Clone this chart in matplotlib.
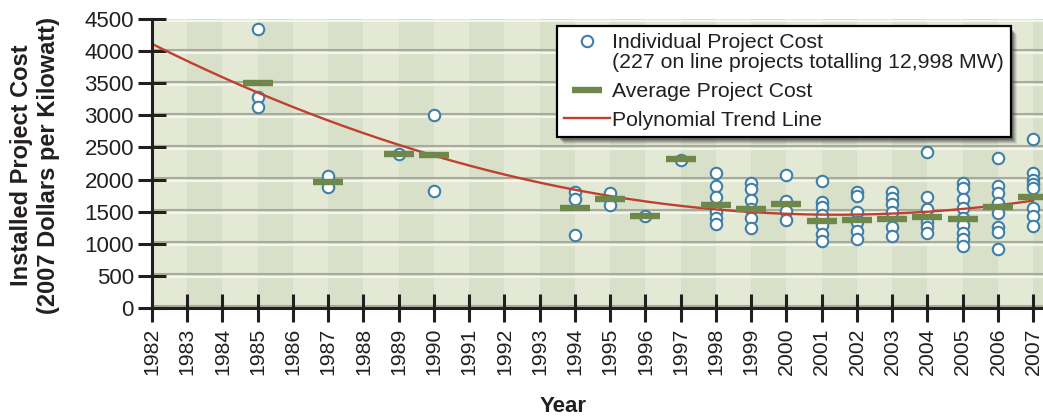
import numpy as np
import matplotlib
matplotlib.use("Agg")
import matplotlib.pyplot as plt
import matplotlib.transforms as mtransforms
import matplotlib.patches as mpatches
from matplotlib.lines import Line2D
from matplotlib.legend_handler import HandlerLine2D

plt.rcParams['font.family'] = ['Liberation Sans', 'DejaVu Sans']

# ---- data -----------------------------------------------------------------
tick_years = list(range(1982, 2008))
cost_ticks = list(range(0, 5000, 500))

# individual on-line projects (year, installed cost in 2007 $/kW)
project_year = (
    [1985] * 3 + [1987] * 2 + [1989] + [1990] * 2 + [1994] * 3 + [1995] * 2
    + [1996] + [1997] + [1998] * 6 + [1999] * 6 + [2000] * 4 + [2001] * 7
    + [2002] * 6 + [2003] * 6 + [2004] * 6 + [2005] * 9 + [2006] * 8 + [2007] * 8
)
project_cost = [
    4340, 3290, 3125,                                   # 1985
    2055, 1880,                                         # 1987
    2400,                                               # 1989
    3000, 1815,                                         # 1990
    1800, 1700, 1130,                                   # 1994
    1795, 1605,                                         # 1995
    1435,                                               # 1996
    2305,                                               # 1997
    2095, 1905, 1735, 1500, 1395, 1310,                 # 1998
    1940, 1850, 1685, 1540, 1395, 1250,                 # 1999
    2070, 1665, 1510, 1370,                             # 2000
    1975, 1655, 1580, 1450, 1290, 1150, 1045,           # 2001
    1800, 1745, 1500, 1345, 1205, 1075,                 # 2002
    1800, 1710, 1615, 1500, 1255, 1125,                 # 2003
    2425, 1735, 1535, 1345, 1255, 1165,                 # 2004
    1940, 1865, 1700, 1550, 1395, 1290, 1175, 1070, 965,  # 2005
    2340, 1900, 1785, 1640, 1475, 1265, 1190, 925,      # 2006
    2625, 2095, 1995, 1930, 1865, 1550, 1435, 1275,     # 2007
]

# capacity-weighted average cost per year
avg_years = [1985, 1987, 1989, 1990, 1994, 1995, 1996, 1997, 1998, 1999,
             2000, 2001, 2002, 2003, 2004, 2005, 2006, 2007]
avg_costs = [3500, 1955, 2400, 2390, 1550, 1690, 1430, 2315, 1600, 1540,
             1615, 1360, 1370, 1380, 1420, 1380, 1580, 1725]

# points on the quadratic trend line
trend_years = [1982, 1985, 1990, 2001, 2007]
trend_costs = [4120, 3330, 2400, 1435, 1680]

# ---- style ----------------------------------------------------------------
INK = '#231f20'
STRIPE_LIGHT = '#e4e9d6'
STRIPE_DARK = '#d9e0c9'
GRID_GRAY = '#a8ab99'
GRID_WHITE = '#f5f7ef'
CIRCLE_EDGE = '#3f7fa7'
AVG_GREEN = '#6d884a'
TREND_RED = '#c0402e'

fig = plt.figure(figsize=(10.43, 4.2), dpi=100)
ax = fig.add_axes([152 / 1043, 112 / 420, 891 / 1043, 289 / 420])

x_lo, x_hi = 1982, 2007.28
ax.set_xlim(x_lo, x_hi)
ax.set_ylim(0, 4500)

# alternating yearly background stripes
for i, yr in enumerate(tick_years):
    ax.axvspan(yr, yr + 1, color=STRIPE_LIGHT if i % 2 == 0 else STRIPE_DARK,
               lw=0, zorder=0)

# embossed horizontal grid: gray line with a white line just below
up = mtransforms.offset_copy(ax.transData, fig=fig, x=0, y=1.6, units='dots')
down = mtransforms.offset_copy(ax.transData, fig=fig, x=0, y=-1.6, units='dots')
for v in cost_ticks:
    ax.plot([x_lo, x_hi], [v, v], color=GRID_GRAY, lw=1.5, transform=up,
            zorder=1, solid_capstyle='butt')
    ax.plot([x_lo, x_hi], [v, v], color=GRID_WHITE, lw=1.4, transform=down,
            zorder=1, solid_capstyle='butt')

# individual projects
ax.scatter(project_year, project_cost, s=68, facecolor='white',
           edgecolor=CIRCLE_EDGE, linewidths=1.5, zorder=3, clip_on=False)

# trend line
coef = np.polyfit(trend_years, trend_costs, 2)
tx = np.linspace(1982, 2007, 300)
ax.plot(tx, np.polyval(coef, tx), color=TREND_RED, lw=1.7, zorder=4)

# yearly averages
ax.plot(avg_years, avg_costs, ls='none', marker='_', ms=21, mew=4.6,
        color=AVG_GREEN, zorder=5)

# axes, ticks
for side in ('top', 'right'):
    ax.spines[side].set_visible(False)
for side in ('left', 'bottom'):
    ax.spines[side].set_linewidth(2.2)
    ax.spines[side].set_color(INK)
    ax.spines[side].set_zorder(6)

ax.set_xticks(tick_years)
ax.set_xticklabels([str(y) for y in tick_years], rotation=90)
ax.set_yticks(cost_ticks)
ax.set_yticklabels([str(v) for v in cost_ticks])
ax.tick_params(axis='both', direction='inout', width=2.2, color=INK,
               labelcolor=INK)
ax.tick_params(axis='y', length=20, pad=3.0, labelsize=16)
ax.tick_params(axis='x', length=19.5, pad=4.5, labelsize=15.3)

fig.text(35 / 1043, 1 - 165 / 420,
         'Installed Project Cost\n(2007 Dollars per Kilowatt)',
         rotation=90, ha='center', va='center', fontsize=17,
         fontweight='bold', color=INK, linespacing=1.2, multialignment='center')
fig.text(563 / 1043, 1 - 407 / 420, 'Year', ha='center', va='center',
         fontsize=16, fontweight='bold', color=INK)


# legend: circle handle sits beside the first line of its two-line label
class FirstLineHandler(HandlerLine2D):
    def __init__(self, lift, **kw):
        super().__init__(**kw)
        self.lift = lift

    def create_artists(self, legend, orig_handle, xdescent, ydescent, width,
                       height, fontsize, trans):
        return super().create_artists(legend, orig_handle, xdescent,
                                      ydescent - 2 * self.lift * fontsize,
                                      width, height, fontsize, trans)


h_circle = Line2D([], [], ls='none', marker='o', ms=8.2, mfc='white',
                  mec=CIRCLE_EDGE, mew=1.5)
h_avg = Line2D([], [], ls='none', marker='_', ms=21, mew=4.6, color=AVG_GREEN)
h_trend = Line2D([], [], color=TREND_RED, lw=1.7)

leg = fig.legend(
    [h_circle, h_avg, h_trend],
    ['Individual Project Cost\n(227 on line projects totalling 12,998 MW)',
     'Average Project Cost', 'Polynomial Trend Line'],
    loc='upper left', bbox_to_anchor=(557 / 1043, 1 - 26 / 420),
    bbox_transform=fig.transFigure, borderaxespad=0, fontsize=15.35,
    handlelength=2.15, handletextpad=0.1, borderpad=0.33, labelspacing=0.46,
    fancybox=False, edgecolor='black', framealpha=1,
    handler_map={h_circle: FirstLineHandler(0.56)},
)
leg.get_frame().set_linewidth(1.6)
for t in leg.get_texts():
    t.set_color(INK)
    t.set_linespacing(1.08)
leg.set_zorder(10)

# soft drop shadow behind the legend box
fig.canvas.draw()
bb = leg.get_window_extent()
for k, a in enumerate([0.10, 0.14, 0.18, 0.24, 0.30]):
    off = 6 - k
    shade = mpatches.Rectangle((bb.x0 + off + 1, bb.y0 - off - 1),
                               bb.width - 1, bb.height - 1,
                               transform=mtransforms.IdentityTransform(),
                               facecolor='#333333', edgecolor='none', alpha=a,
                               zorder=9)
    fig.add_artist(shade)

fig.savefig('out.png', dpi=100)
